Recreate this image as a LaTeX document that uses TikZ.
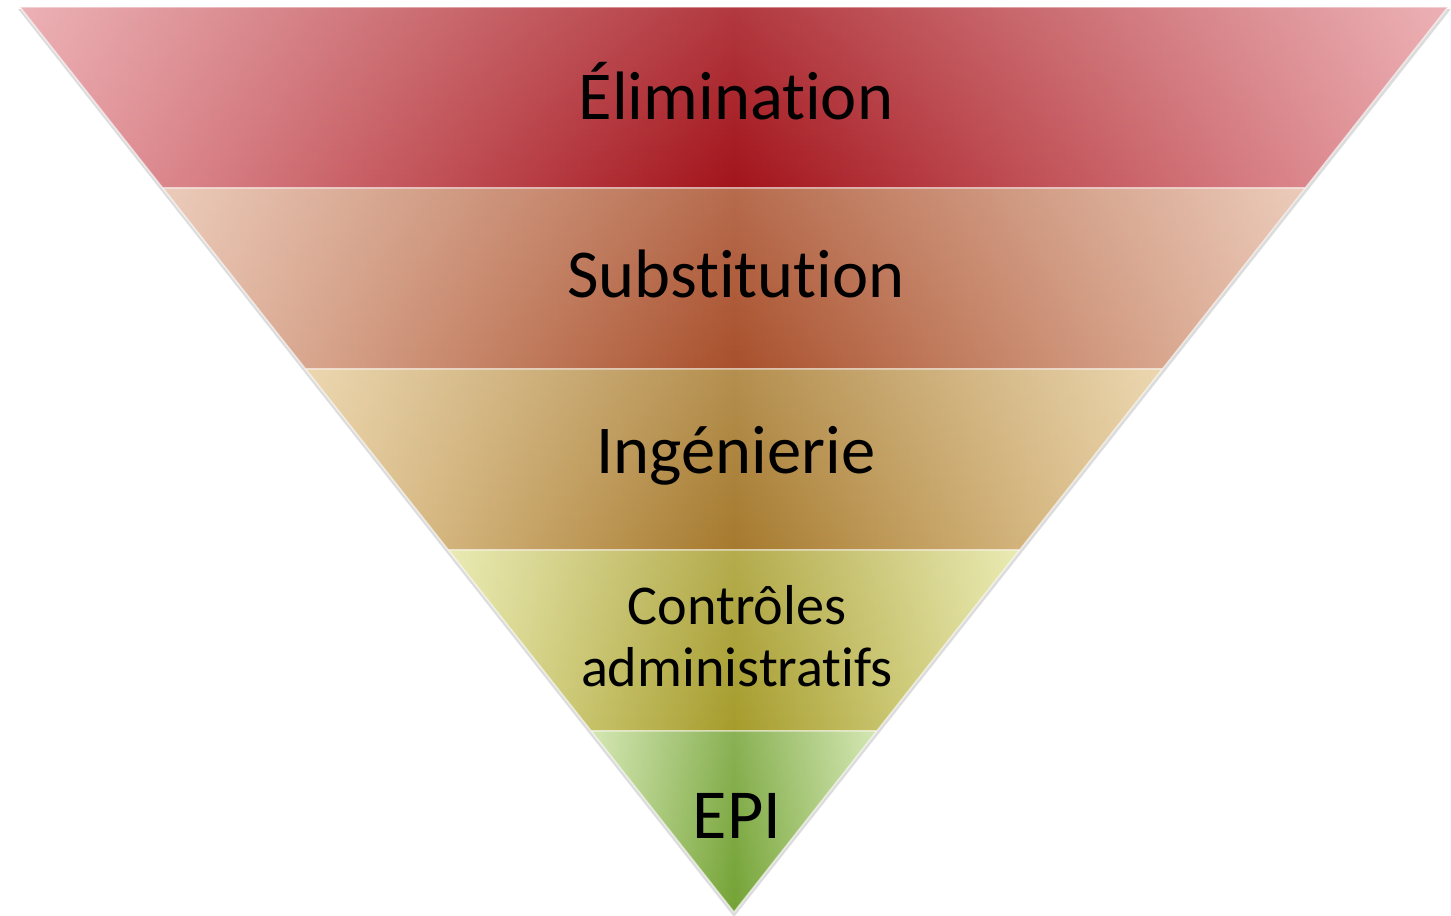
\documentclass[tikz,border=0pt]{standalone}
\usepackage{fontspec}
\setmainfont[Ligatures=NoCommon]{Carlito}
\usepackage{tikz}
\usetikzlibrary{calc,fadings}

% band colours: light edge / dark centre
\definecolor{elimL}{HTML}{E9A3A8}
\definecolor{elimD}{HTML}{A3141B}
\definecolor{substL}{HTML}{E8C2AE}
\definecolor{substD}{HTML}{A9502C}
\definecolor{ingL}{HTML}{E9D0A2}
\definecolor{ingD}{HTML}{A67A2E}
\definecolor{ctrlL}{HTML}{E6E7A6}
\definecolor{ctrlD}{HTML}{A69C2C}
\definecolor{epiL}{HTML}{CDE3A6}
\definecolor{epiD}{HTML}{74A335}

\begin{document}
\begin{tikzpicture}[
		x=0.02cm,y=-0.02cm,
		line cap=round,line join=round,
		band/.style={draw=white,draw opacity=0.6,line width=0.8pt},
		gloss/.style={fill=white,fill opacity=0.16,path fading=south},
		lbl/.style={text=black,align=center,inner sep=0pt}
		]
		% frame = reference size
		\useasboundingbox (0,0) rectangle (1451,916);
		
		%----- corners of the funnel
		\coordinate (TL) at (20,7);
		\coordinate (TR) at (1448,7);
		\coordinate (A) at (734,912);
		\foreach \i/\t in {1/0.2,2/0.4,3/0.6,4/0.8}{
			\coordinate (L\i) at ($(TL)!\t!(A)$);
			\coordinate (R\i) at ($(TR)!\t!(A)$);
		}
		
		% soft shadow
		\fill[black!30,opacity=0.45] ($(TL)+(-2,2)$) -- ($(TR)+(3,2)$) -- ($(A)+(0,5)$) -- cycle;
		
		%----- bands
		\shade[band,left color=elimL,right color=elimL,middle color=elimD]
		(TL) -- (TR) -- (R1) -- (L1) -- cycle;
		\shade[band,left color=substL,right color=substL,middle color=substD]
		(L1) -- (R1) -- (R2) -- (L2) -- cycle;
		\shade[band,left color=ingL,right color=ingL,middle color=ingD]
		(L2) -- (R2) -- (R3) -- (L3) -- cycle;
		\shade[band,left color=ctrlL,right color=ctrlL,middle color=ctrlD]
		(L3) -- (R3) -- (R4) -- (L4) -- cycle;
		\shade[band,left color=epiL,right color=epiL,middle color=epiD]
		(L4) -- (R4) -- (A) -- cycle;
		
		% light on top of each band
		\fill[gloss] (TL) -- (TR) -- (R1) -- (L1) -- cycle;
		\fill[gloss] (L1) -- (R1) -- (R2) -- (L2) -- cycle;
		\fill[gloss] (L2) -- (R2) -- (R3) -- (L3) -- cycle;
		\fill[gloss] (L3) -- (R3) -- (R4) -- (L4) -- cycle;
		\fill[gloss] (L4) -- (R4) -- (A) -- cycle;
		
		%----- labels
		\node[lbl,font=\fontsize{39}{47}\selectfont] (elim) at (736,91) {Élimination};
		\node[lbl,font=\fontsize{39}{47}\selectfont] (subst) at (736,274) {Substitution};
		\node[lbl,font=\fontsize{39}{47}\selectfont] (ing) at (736,456) {Ingénierie};
		\node[lbl,font=\fontsize{32}{35}\selectfont] (ctrl) at (737,636) {Contrôles\\administratifs};
		\node[lbl,font=\fontsize{40}{48}\selectfont] (epi) at (737,816) {EPI};
		
	\end{tikzpicture}
\end{document}
